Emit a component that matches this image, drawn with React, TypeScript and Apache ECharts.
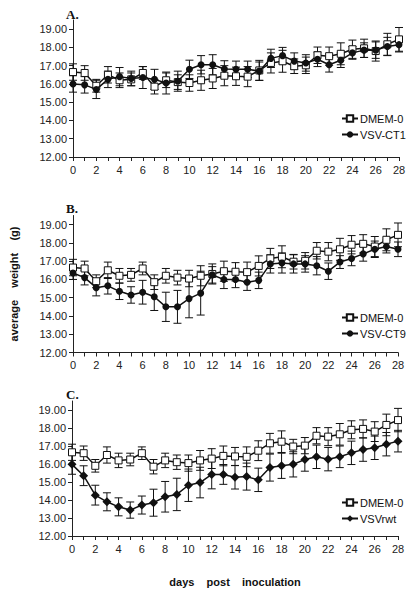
import React, { useEffect, useRef } from "react";
import * as echarts from "echarts";

const days = [0, 1, 2, 3, 4, 5, 6, 7, 8, 9, 10, 11, 12, 13, 14, 15, 16, 17, 18, 19, 20, 21, 22, 23, 24, 25, 26, 27, 28];
const xLabelDays = [0, 2, 4, 6, 8, 10, 12, 14, 16, 18, 20, 22, 24, 26, 28];
const yTicks = [12, 13, 14, 15, 16, 17, 18, 19];

const dmem = [16.65, 16.6, 15.9, 16.5, 16.2, 16.25, 16.6, 15.85, 16.2, 16.1, 16.05, 16.2, 16.3, 16.45, 16.42, 16.4, 16.74, 17.15, 17.24, 16.97, 17.02, 17.57, 17.52, 17.65, 17.9, 17.95, 17.8, 18.17, 18.44];
const dmemSd = [0.45, 0.4, 0.35, 0.45, 0.4, 0.35, 0.35, 0.4, 0.4, 0.4, 0.45, 0.55, 0.55, 0.55, 0.5, 0.55, 0.55, 0.55, 0.6, 0.4, 0.45, 0.45, 0.5, 0.6, 0.5, 0.5, 0.55, 0.6, 0.65];

const ct1 = [16.0, 15.95, 15.7, 16.25, 16.4, 16.3, 16.35, 16.25, 16.05, 16.15, 16.8, 17.05, 17.05, 16.82, 16.8, 16.8, 16.7, 17.4, 17.55, 17.25, 17.15, 17.35, 17.05, 17.3, 17.7, 17.85, 17.85, 18.05, 18.15];
const ct1Sd = [0.45, 0.45, 0.5, 0.45, 0.5, 0.4, 0.6, 0.55, 0.6, 0.55, 0.5, 0.5, 0.55, 0.45, 0.45, 0.45, 0.5, 0.5, 0.45, 0.45, 0.45, 0.4, 0.4, 0.4, 0.35, 0.4, 0.45, 0.5, 0.4];

const ct9 = [16.35, 16.1, 15.55, 15.65, 15.35, 15.15, 15.3, 15.05, 14.5, 14.5, 14.95, 15.25, 16.25, 16.0, 16.0, 15.85, 15.95, 16.85, 16.9, 16.85, 16.85, 16.75, 16.45, 16.95, 17.15, 17.4, 17.65, 17.8, 17.65];
const ct9Sd = [0.35, 0.4, 0.45, 0.45, 0.45, 0.45, 0.65, 0.75, 0.8, 0.9, 1.05, 1.2, 0.45, 0.5, 0.45, 0.45, 0.45, 0.5, 0.55, 0.5, 0.45, 0.5, 0.45, 0.35, 0.4, 0.4, 0.45, 0.35, 0.4];

const rwt = [15.98, 15.35, 14.27, 13.9, 13.62, 13.44, 13.72, 13.85, 14.18, 14.31, 14.82, 14.97, 15.42, 15.42, 15.26, 15.3, 15.12, 15.8, 15.9, 15.98, 16.25, 16.4, 16.27, 16.4, 16.62, 16.8, 16.9, 17.1, 17.27];
const rwtSd = [0.55, 0.55, 0.55, 0.5, 0.5, 0.45, 0.5, 0.75, 0.85, 0.9, 0.9, 0.85, 0.8, 0.55, 0.65, 0.75, 0.65, 0.75, 0.7, 0.7, 0.65, 0.65, 0.65, 0.6, 0.65, 0.65, 0.65, 0.65, 0.6];

const panels = [
  { title: "A.", virus: "VSV-CT1", vals: ct1, sd: ct1Sd, symbol: "circle", size: 7 },
  { title: "B.", virus: "VSV-CT9", vals: ct9, sd: ct9Sd, symbol: "circle", size: 7 },
  { title: "C.", virus: "VSVrwt", vals: rwt, sd: rwtSd, symbol: "diamond", size: 9 },
];

const SANS = "'Liberation Sans', Arial, Helvetica, sans-serif";
const SERIF = "'Liberation Serif', 'Times New Roman', serif";

const grids = [
  { left: 73, right: 15, top: 20, bottom: 435 },
  { left: 72, right: 16, top: 215.5, bottom: 239.5 },
  { left: 72, right: 16, top: 401, bottom: 56 },
];
const titleTops = [3, 197, 383];
const legendTops = [108, 307, 492];

function errRender(params: any, api: any) {
  const x = api.value(0);
  const lo = api.value(1);
  const hi = api.value(2);
  const t = api.coord([x, hi]);
  const b = api.coord([x, lo]);
  const hw = 4;
  const style = { stroke: "#111", lineWidth: 1 };
  return {
    type: "group",
    children: [
      { type: "line", shape: { x1: t[0], y1: t[1], x2: b[0], y2: b[1] }, style },
      { type: "line", shape: { x1: t[0] - hw, y1: t[1], x2: t[0] + hw, y2: t[1] }, style },
      { type: "line", shape: { x1: b[0] - hw, y1: b[1], x2: b[0] + hw, y2: b[1] }, style },
    ],
  };
}

function buildOption() {
  const series: any[] = [];
  const xAxis: any[] = [];
  const yAxis: any[] = [];
  const legend: any[] = [];
  const title: any[] = [];
  panels.forEach((p, i) => {
    title.push({
      text: p.title,
      left: 61,
      top: titleTops[i],
      textStyle: { fontFamily: SERIF, fontWeight: "bold", fontSize: 13, color: "#111" },
    });
    xAxis.push({
      type: "value",
      gridIndex: i,
      min: 0,
      max: 28,
      interval: 1,
      splitLine: { show: false },
      axisLine: { lineStyle: { color: "#222", width: 1 } },
      axisTick: { length: 4, lineStyle: { color: "#222" } },
      axisLabel: {
        customValues: xLabelDays,
        fontFamily: SANS,
        fontSize: 11,
        color: "#222",
        margin: 7,
      },
      name: i === 2 ? "days\u00a0\u00a0\u00a0\u00a0post\u00a0\u00a0\u00a0\u00a0inoculation" : "",
      nameLocation: "middle",
      nameGap: 40,
      nameTextStyle: { fontFamily: SANS, fontWeight: "bold", fontSize: 11, color: "#111" },
    });
    yAxis.push({
      type: "value",
      gridIndex: i,
      min: 12,
      max: 19.5,
      splitLine: { show: false },
      axisLine: { show: true, lineStyle: { color: "#222", width: 1 } },
      axisTick: { show: true, customValues: yTicks, length: 4, lineStyle: { color: "#222" } },
      axisLabel: {
        customValues: yTicks,
        formatter: (v: number) => v.toFixed(2),
        fontFamily: SANS,
        fontSize: 11,
        color: "#222",
        margin: 6,
      },
      name: i === 1 ? "average\u00a0\u00a0\u00a0\u00a0weight\u00a0\u00a0\u00a0\u00a0(g)" : "",
      nameLocation: "middle",
      nameGap: 54,
      nameTextStyle: { fontFamily: SANS, fontWeight: "bold", fontSize: 11, color: "#111" },
    });
    const dmemName = "DMEM-0";
    legend.push({
      orient: "vertical",
      left: 336,
      top: legendTops[i],
      itemWidth: 16,
      itemHeight: 8,
      itemGap: 5,
      data: [
        { name: dmemName + " ".repeat(i) },
        { name: p.virus },
      ],
      formatter: (n: string) => n.trim(),
      textStyle: { fontFamily: SANS, fontSize: 11, color: "#111", padding: [0, 0, 0, -3] },
    });
    series.push({
      type: "custom",
      xAxisIndex: i,
      yAxisIndex: i,
      renderItem: errRender,
      data: days.map((d, k) => [d, dmem[k] - dmemSd[k], dmem[k] + dmemSd[k]]),
      encode: { x: 0, y: [1, 2] },
      z: 1,
      silent: true,
    });
    series.push({
      type: "custom",
      xAxisIndex: i,
      yAxisIndex: i,
      renderItem: errRender,
      data: days.map((d, k) => [d, p.vals[k] - p.sd[k], p.vals[k] + p.sd[k]]),
      encode: { x: 0, y: [1, 2] },
      z: 1,
      silent: true,
    });
    series.push({
      type: "line",
      name: dmemName + " ".repeat(i),
      xAxisIndex: i,
      yAxisIndex: i,
      data: days.map((d, k) => [d, dmem[k]]),
      symbol: "rect",
      symbolSize: 7,
      itemStyle: { color: "#fff", borderColor: "#111", borderWidth: 1 },
      lineStyle: { color: "#111", width: 1.5 },
      z: 3,
    });
    series.push({
      type: "line",
      name: p.virus,
      xAxisIndex: i,
      yAxisIndex: i,
      data: days.map((d, k) => [d, p.vals[k]]),
      symbol: p.symbol,
      symbolSize: p.size,
      itemStyle: { color: "#111" },
      lineStyle: { color: "#111", width: 1.5 },
      z: 4,
    });
  });
  return {
    animation: false,
    backgroundColor: "#fff",
    title,
    legend,
    grid: grids,
    xAxis,
    yAxis,
    series,
  };
}

export default function App() {
  const ref = useRef<HTMLDivElement>(null);
  useEffect(() => {
    if (!ref.current) return;
    const chart = echarts.init(ref.current, undefined, { renderer: "svg" });
    chart.setOption(buildOption() as any);
    return () => chart.dispose();
  }, []);
  return (
    <div
      ref={ref}
      style={{ position: "fixed", left: 0, top: 0, width: 414, height: 592, background: "#fff" }}
    />
  );
}
